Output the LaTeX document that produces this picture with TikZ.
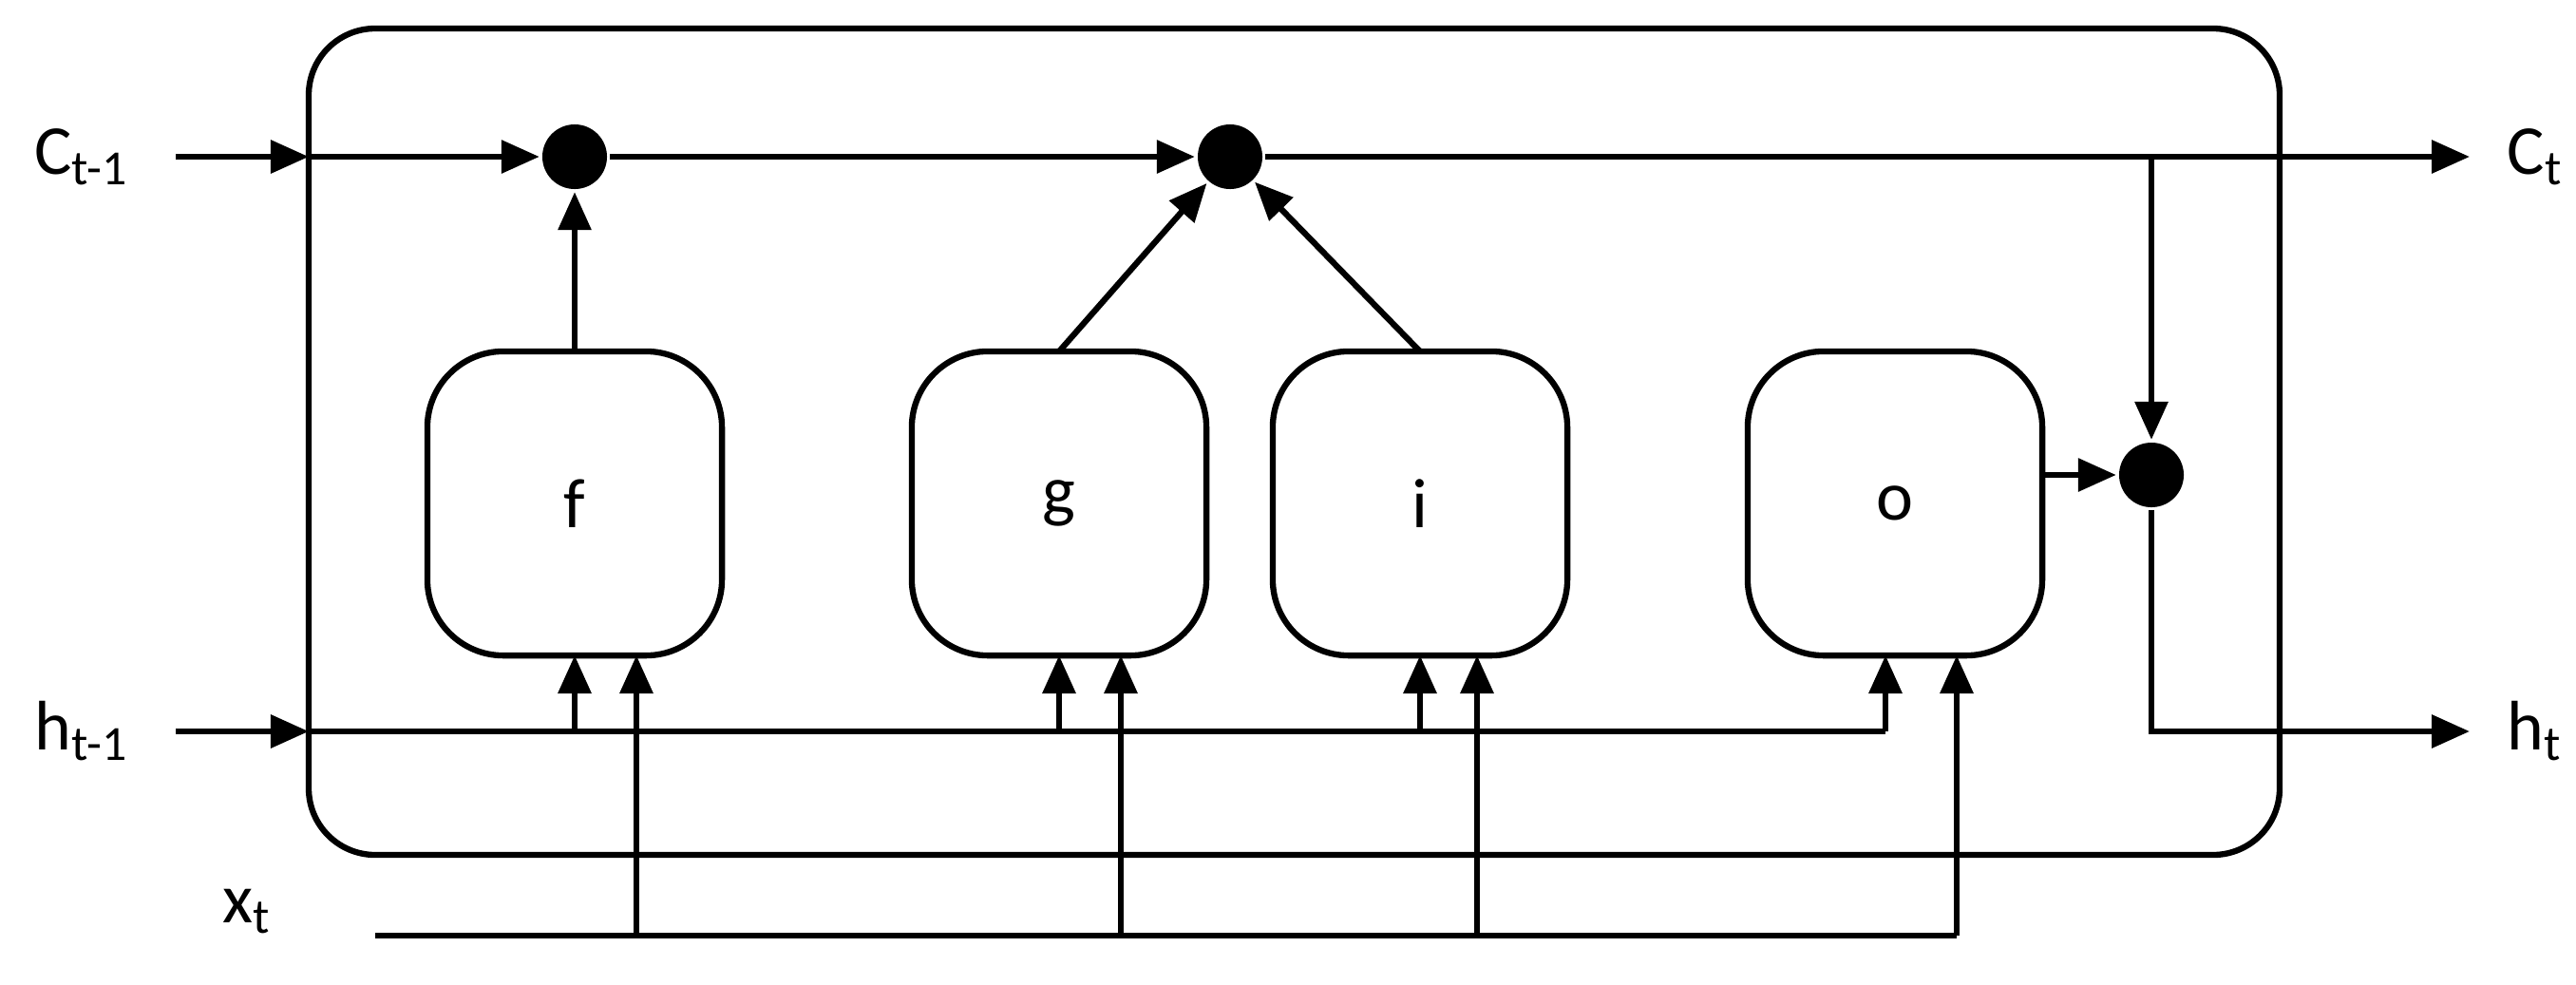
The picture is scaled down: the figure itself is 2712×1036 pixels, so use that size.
\documentclass[tikz,border=0pt]{standalone}
\usepackage{fontspec}
\setmainfont{Carlito}
\usetikzlibrary{arrows.meta}
\begin{document}
\begin{tikzpicture}[x=0.01cm,y=-0.01cm,line width=1.8pt,
  arr/.style={-{Triangle[length=0.4cm,width=0.34cm]}},
  gate/.style={draw,rounded corners=0.8cm,minimum width=3.1cm,minimum height=3.2cm,font=\fontsize{21}{24}\selectfont},
  dot/.style={circle,fill=black,inner sep=0pt,minimum size=0.68cm},
  lbl/.style={font=\fontsize{21}{24}\selectfont}]
\useasboundingbox (0,0) rectangle (2712,1036);
\draw[rounded corners=0.7cm] (325,30) rectangle (2400,900);
\node[gate] (f) at (605,530) {f};
\node[gate] (g) at (1115,530) {g};
\node[gate] (i) at (1495,530) {i};
\node[gate] (o) at (1995,530) {o};
\node[dot] (d1) at (605,165) {};
\node[dot] (d2) at (1295,165) {};
\node[dot] (d3) at (2265,500) {};
\node[lbl,anchor=east] (cin) at (150,165) {C\textsubscript{t-1}};
\node[lbl,anchor=west] (cout) at (2625,165) {C\textsubscript{t}};
\node[lbl,anchor=east] (hin) at (150,770) {h\textsubscript{t-1}};
\node[lbl,anchor=west] (hout) at (2625,770) {h\textsubscript{t}};
\node[lbl,anchor=east] (xin) at (300,960) {x\textsubscript{t}};
\coordinate (b1) at (325,165);
\coordinate (b2) at (325,770);
\coordinate (ce) at (2600,165);
\coordinate (he) at (2600,770);
\coordinate (cs) at (2265,165);
\draw[arr] (185,165) -- (b1);
\draw[arr] (b1) -- (d1);
\draw[arr] (d1) -- (d2);
\draw[arr] (d2) -- (ce);
\draw[arr] (cs) -- (d3);
\draw[arr] (f.north) -- (d1);
\draw[arr] (1115,370) -- (d2);
\draw[arr] (1495,370) -- (d2);
\draw[arr] (o.east |- d3) -- (d3);
\draw[arr] (d3) |- (he);
\draw[arr] (185,770) -- (b2);
\draw (b2) -- (1985,770);
\draw (395,985) -- (2060,985);
\foreach \xh/\xx in {605/670,1115/1180,1495/1555,1985/2060}{
  \draw[arr] (\xh,770) -- (\xh,690);
  \draw[arr] (\xx,985) -- (\xx,690);
}
\end{tikzpicture}
\end{document}
